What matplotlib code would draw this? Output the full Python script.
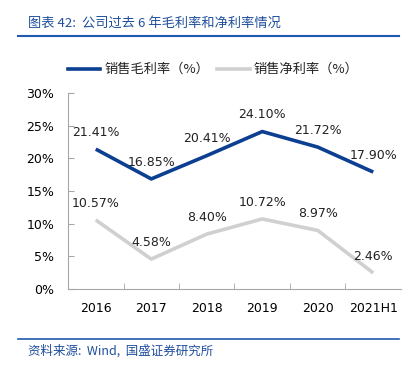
"""Gross and net margin chart, 2016 to 2021H1."""

import matplotlib
matplotlib.use("Agg")
import matplotlib.pyplot as plt
from matplotlib.lines import Line2D

plt.rcParams["font.family"] = ["DejaVu Sans", "Noto Sans CJK SC"]

years = ["2016", "2017", "2018", "2019", "2020", "2021H1"]
gross_margin = [21.41, 16.85, 20.41, 24.10, 21.72, 17.90]
net_margin = [10.57, 4.58, 8.40, 10.72, 8.97, 2.46]
y_ticks = [0, 5, 10, 15, 20, 25, 30]

BLUE = "#0c3f92"
GREY = "#d0d0d0"
TITLE_BLUE = "#1f4e9c"
RULE_BLUE = "#2059b0"
AXIS = "#a6a6a6"
CJK = ["Noto Sans CJK SC", "DejaVu Sans"]

W, H = 405, 371
fig = plt.figure(figsize=(W / 100, H / 100), dpi=100)
fig.patch.set_facecolor("white")

ax = fig.add_axes([68 / W, 1 - 289 / H, (401 - 68) / W, (289 - 93) / H])
x = list(range(len(years)))
ax.plot(x, gross_margin, color=BLUE, lw=2.6, solid_capstyle="butt")
ax.plot(x, net_margin, color=GREY, lw=2.6, solid_capstyle="butt")

for xi, v in zip(x, gross_margin):
    ax.annotate(f"{v:.2f}%", (xi, v), xytext=(0, 12), textcoords="offset points",
                ha="center", va="center", fontsize=9, color="#222222")
for xi, v in zip(x, net_margin):
    ax.annotate(f"{v:.2f}%", (xi, v), xytext=(0, 12), textcoords="offset points",
                ha="center", va="center", fontsize=9, color="#222222")

ax.set_xlim(-0.5, len(years) - 0.5)
ax.set_ylim(0, 30)
ax.set_yticks(y_ticks)
ax.set_yticklabels([f"{t}%" for t in y_ticks], fontsize=9)
ax.set_xticks(x)
ax.set_xticklabels(years, fontsize=9)
ax.set_xticks([i + 0.5 for i in x[:-1]], minor=True)
ax.tick_params(axis="x", which="major", length=0, pad=9)
ax.tick_params(axis="x", which="minor", length=4, direction="in", color=AXIS)
ax.tick_params(axis="y", length=4, direction="in", color=AXIS, pad=10)
for side in ("top", "right"):
    ax.spines[side].set_visible(False)
for side in ("left", "bottom"):
    ax.spines[side].set_color(AXIS)
    ax.spines[side].set_linewidth(0.8)

# title, rules and source line
fig.text(28 / W, 1 - 23 / H, "图表 42:  公司过去 6 年毛利率和净利率情况", family=CJK,
         fontsize=9.5, style="italic", color=TITLE_BLUE, va="center", ha="left")
fig.add_artist(Line2D([18 / W, 399 / W], [1 - 36 / H] * 2, color=RULE_BLUE, lw=1.5))
fig.add_artist(Line2D([18 / W, 399 / W], [1 - 339 / H] * 2, color=RULE_BLUE, lw=1.2))
fig.text(28 / W, 1 - 351 / H, "资料来源:  Wind,  国盛证券研究所", family=CJK,
         fontsize=9, style="italic", color=TITLE_BLUE, va="center", ha="left")

# legend
ly = 1 - 69 / H
fig.add_artist(Line2D([68 / W, 100 / W], [ly, ly], color=BLUE, lw=2.6))
fig.text(104 / W, ly, "销售毛利率（%）", family=CJK, fontsize=9.5, va="center", color="#222222")
fig.add_artist(Line2D([217 / W, 250 / W], [ly, ly], color=GREY, lw=2.6))
fig.text(253 / W, ly, "销售净利率（%）", family=CJK, fontsize=9.5, va="center", color="#222222")

fig.savefig("out.png", dpi=100, facecolor="white")
